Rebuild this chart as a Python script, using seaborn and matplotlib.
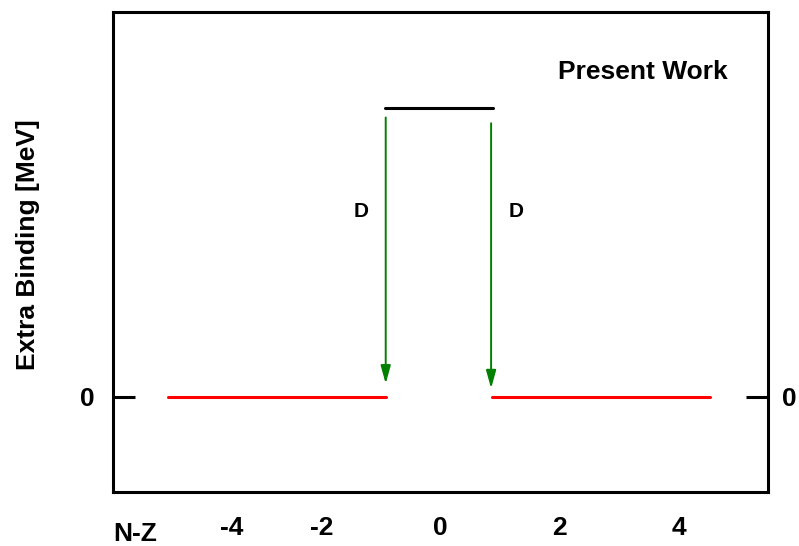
import matplotlib
matplotlib.use("Agg")
import matplotlib.pyplot as plt
import seaborn as sns
import pandas as pd

sns.set_theme(style="white")
plt.rcParams['font.family'] = ['Liberation Sans', 'DejaVu Sans']
plt.rcParams['font.weight'] = 'bold'
plt.rcParams['text.color'] = 'black'
plt.rcParams['axes.labelcolor'] = 'black'

# data
ground_left_x = [-4.58, -0.92]
ground_right_x = [0.87, 4.53]
ground_y = [0.0, 0.0]
upper_x = [-0.93, 0.88]
upper_y = [3.04, 3.04]
arrow_x = [-0.92, 0.85]
arrow_top = [2.94, 2.88]
arrow_tip = [0.14, 0.09]
arrow_labels = ["D", "D"]
label_x = [-1.33, 1.27]
label_y = [1.95, 1.95]
xtick_pos = [-3.5, -2, 0, 2, 4]
xtick_labels = ["-4", "-2", "0", "2", "4"]

segs = pd.DataFrame({
    "x": ground_left_x + ground_right_x + upper_x,
    "y": ground_y + ground_y + upper_y,
    "seg": ["gl", "gl", "gr", "gr", "up", "up"],
})

fig = plt.figure(figsize=(7.99, 5.46), dpi=100)
ax = fig.add_axes([0.1414, 0.0989, 0.8198, 0.8791])

sns.lineplot(data=segs, x="x", y="y", hue="seg", units="seg", estimator=None,
             palette={"gl": "#ff0000", "gr": "#ff0000", "up": "#000000"},
             linewidth=2.2, legend=False, ax=ax)

for xa, yt, yb in zip(arrow_x, arrow_top, arrow_tip):
    ax.annotate("", xy=(xa, yb), xytext=(xa, yt),
                arrowprops=dict(arrowstyle="-|>,head_length=0.9,head_width=0.25",
                                color="#008000", lw=1.4, shrinkA=0, shrinkB=0,
                                mutation_scale=12))

for lx, ly, lt in zip(label_x, label_y, arrow_labels):
    ax.text(lx, ly, lt, ha="center", va="center", fontsize=15, fontweight="bold", color="black")

ax.text(3.4, 3.42, "Present Work", ha="center", va="center", fontsize=19,
        fontweight="bold", color="black")

ax.set_xlim(-5.5, 5.5)
ax.set_ylim(-1.0, 4.05)
ax.set_xticks(xtick_pos)
ax.set_xticklabels(xtick_labels)
ax.set_yticks([0])
ax.set_yticklabels(["0"])
ax.set_xlabel("")
ax.set_ylabel("Extra Binding [MeV]", fontsize=19, fontweight="bold", color="black")
ax.yaxis.set_label_coords(-0.111, 0.515)

for sp in ax.spines.values():
    sp.set_visible(True)
    sp.set_color("black")
    sp.set_linewidth(2.2)

ax.tick_params(axis="y", direction="in", length=16, width=2.2, left=True, right=True,
               labelleft=True, labelright=True, pad=13, labelsize=19, colors="black")
ax.tick_params(axis="y", which="major", labelright=True)
for lbl in ax.yaxis.get_ticklabels(which="major"):
    pass
ax.yaxis.set_tick_params(pad=13)
# tighten right-side label so it stays within the figure
for t in ax.yaxis.get_major_ticks():
    t.label2.set_fontweight("bold")
    t.set_pad(13)
ax.tick_params(axis="x", length=0, pad=17, labelsize=19, colors="black")
for lbl in ax.get_xticklabels() + ax.get_yticklabels():
    lbl.set_fontweight("bold")

fig.canvas.draw()
for t in ax.yaxis.get_major_ticks():
    t.label2.set_x(1.0)
    t.label2.set_transform(ax.get_yaxis_transform(which="tick2") +
                           matplotlib.transforms.ScaledTranslation(10 / 72, 0, fig.dpi_scale_trans))

fig.text(135 / 799, 1 - 534 / 546, "N-Z", ha="center", va="center", fontsize=19,
         fontweight="bold", color="black")

fig.savefig("out.png", dpi=100)
